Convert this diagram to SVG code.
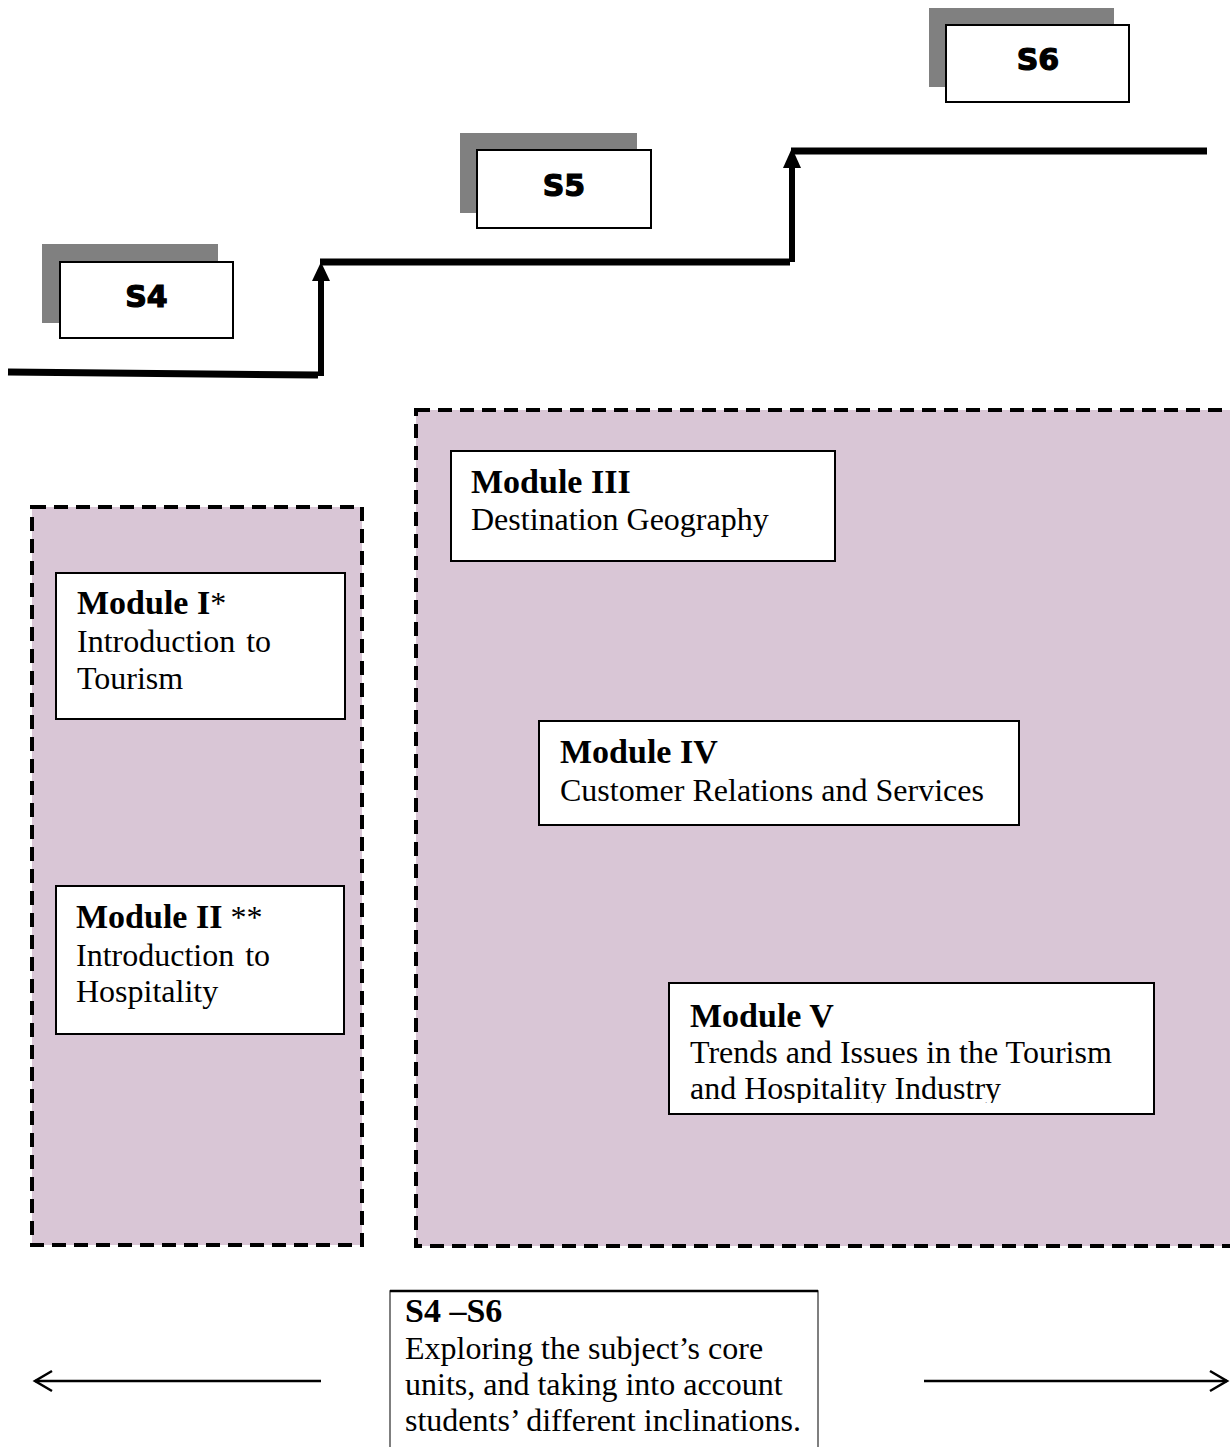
<svg xmlns="http://www.w3.org/2000/svg" width="1230" height="1447" viewBox="0 0 1230 1447">
<style>
.shadow{fill:#808080}
.sbox{fill:#fff;stroke:#000;stroke-width:2}
.slabel{font-family:"DejaVu Sans",sans-serif;font-weight:bold;font-size:30px;text-anchor:middle;fill:#000;stroke:#000;stroke-width:1.2}
.group{fill:#D9C6D6;stroke:#000;stroke-width:4;stroke-dasharray:14 8}
.mbox{fill:#fff;stroke:#000;stroke-width:2}
.t{font-family:"Liberation Serif","Times New Roman",serif;font-size:32px;fill:#000}
.b{font-weight:bold;font-size:34px}
.stair{fill:none;stroke:#000;stroke-width:7}
.riser{fill:none;stroke:#000;stroke-width:6}
.thin{fill:none;stroke:#000;stroke-width:2.5}
</style>
<defs>
<clipPath id="clipV"><rect x="669" y="983" width="486" height="120"/></clipPath>
</defs>

<g id="groups">
<rect id="group-left" class="group" x="32" y="507" width="330" height="738"/>
<rect id="group-right" class="group" x="416" y="410" width="817" height="836"/>
</g>

<g id="connectors">
<path class="stair" d="M8,372 L318,375"/>
<path class="riser" d="M321,376 V278"/>
<polygon points="321,262 330,281 312,281" fill="#000"/>
<path class="stair" d="M320,262 H790"/>
<path class="riser" d="M792,262 V166"/>
<polygon points="792,148 801,168 783,168" fill="#000"/>
<path class="stair" d="M791,151 H1207"/>
<path class="thin" d="M35,1381 H321"/>
<path class="thin" d="M52,1371 L35,1381 L52,1391"/>
<path class="thin" d="M924,1381 H1227"/>
<path class="thin" d="M1210,1371 L1227,1381 L1210,1391"/>
</g>

<g id="s4">
<rect class="shadow" x="42" y="244" width="176" height="79"/>
<rect class="sbox" x="60" y="262" width="173" height="76"/>
<text class="slabel" x="146.5" y="307">S4</text>
</g>
<g id="s5">
<rect class="shadow" x="460" y="133" width="177" height="80"/>
<rect class="sbox" x="477" y="150" width="174" height="78"/>
<text class="slabel" x="564" y="196">S5</text>
</g>
<g id="s6">
<rect class="shadow" x="929" y="8" width="185" height="79"/>
<rect class="sbox" x="946" y="25" width="183" height="77"/>
<text class="slabel" x="1038" y="70">S6</text>
</g>

<g id="module1">
<rect class="mbox" x="56" y="573" width="289" height="146"/>
<text class="t" x="77" y="614"><tspan class="b">Module I</tspan>*</text>
<text class="t" x="77" y="652" word-spacing="3">Introduction to</text>
<text class="t" x="77" y="689">Tourism</text>
</g>

<g id="module2">
<rect class="mbox" x="56" y="886" width="288" height="148"/>
<text class="t" x="76" y="928"><tspan class="b">Module II</tspan> **</text>
<text class="t" x="76" y="966" word-spacing="3">Introduction to</text>
<text class="t" x="76" y="1002">Hospitality</text>
</g>

<g id="module3">
<rect class="mbox" x="451" y="451" width="384" height="110"/>
<text class="t b" x="471" y="493">Module III</text>
<text class="t" x="471" y="530">Destination Geography</text>
</g>

<g id="module4">
<rect class="mbox" x="539" y="721" width="480" height="104"/>
<text class="t b" x="560" y="763">Module IV</text>
<text class="t" x="560" y="801">Customer Relations and Services</text>
</g>

<g id="module5">
<rect class="mbox" x="669" y="983" width="485" height="131"/>
<text class="t b" x="690" y="1027">Module V</text>
<text class="t" x="690" y="1063">Trends and Issues in the Tourism</text>
<text class="t" x="690" y="1099" clip-path="url(#clipV)">and Hospitality Industry</text>
</g>

<g id="summary">
<rect x="390" y="1291" width="428" height="170" fill="#fff" stroke="#555" stroke-width="1.5"/>
<path d="M390,1291 H818" stroke="#000" stroke-width="2.5"/>
<text class="t b" x="405" y="1322">S4 –S6</text>
<text class="t" x="405" y="1359">Exploring the subject’s core</text>
<text class="t" x="405" y="1395">units, and taking into account</text>
<text class="t" x="405" y="1431">students’ different inclinations.</text>
</g>
</svg>
